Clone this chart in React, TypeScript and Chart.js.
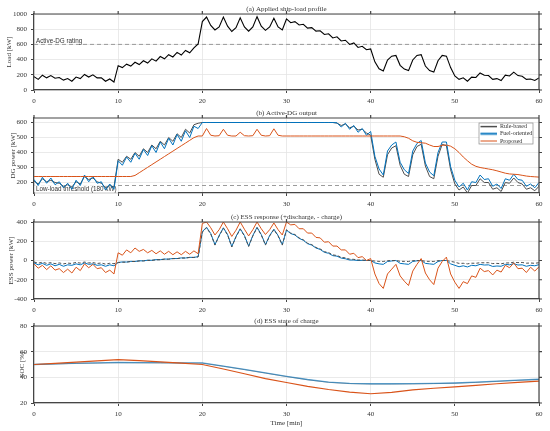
import React, { useEffect, useRef } from "react";
import { Chart, registerables } from "chart.js";

Chart.register(...registerables);

// time grid of the logged signals [min]
const minutes = [
  0, 0.5, 1, 1.5, 2, 2.5, 3, 3.5, 4, 4.5,
  5, 5.5, 6, 6.5, 7, 7.5, 8, 8.5, 9, 9.5,
  10, 10.5, 11, 11.5, 12, 12.5, 13, 13.5, 14, 14.5,
  15, 15.5, 16, 16.5, 17, 17.5, 18, 18.5, 19, 19.5,
  20, 20.5, 21, 21.5, 22, 22.5, 23, 23.5, 24, 24.5,
  25, 25.5, 26, 26.5, 27, 27.5, 28, 28.5, 29, 29.5,
  30, 30.5, 31, 31.5, 32, 32.5, 33, 33.5, 34, 34.5,
  35, 35.5, 36, 36.5, 37, 37.5, 38, 38.5, 39, 39.5,
  40, 40.5, 41, 41.5, 42, 42.5, 43, 43.5, 44, 44.5,
  45, 45.5, 46, 46.5, 47, 47.5, 48, 48.5, 49, 49.5,
  50, 50.5, 51, 51.5, 52, 52.5, 53, 53.5, 54, 54.5,
  55, 55.5, 56, 56.5, 57, 57.5, 58, 58.5, 59, 59.5, 60,
];

// (a) ship load [kW]
const loadKw = [
  175, 140, 195, 160, 190, 155, 165, 130, 150, 115,
  170, 150, 205, 170, 200, 160, 160, 115, 145, 105,
  320, 295, 340, 315, 365, 335, 385, 355, 410, 380,
  440, 410, 465, 435, 495, 460, 520, 490, 555, 605,
  900, 960, 850, 790, 830, 960, 840, 770, 820, 950,
  830, 775, 830, 965, 840, 785, 830, 945, 830, 790,
  935, 885, 900, 855, 865, 815, 820, 775, 780, 730,
  740, 685, 700, 645, 655, 600, 620, 560, 575, 530,
  540, 370, 280, 250, 395, 445, 455, 325, 275, 255,
  395, 455, 465, 315, 255, 235, 385, 455, 445, 295,
  185, 140, 160, 115, 170, 165, 225, 195, 190, 140,
  150, 125, 195, 185, 235, 190, 180, 140, 145, 125, 160,
];

// (b) DG output [kW]
const dgRule = [
  210, 190, 225, 205, 215, 200, 195, 175, 185, 170,
  205, 190, 240, 220, 230, 205, 195, 165, 180, 170,
  355, 335, 375, 355, 400, 375, 425, 400, 450, 425,
  475, 450, 500, 475, 525, 500, 555, 530, 585, 595,
  600, 600, 600, 600, 600, 600, 600, 600, 600, 600,
  600, 600, 600, 600, 600, 600, 600, 600, 600, 600,
  600, 600, 600, 600, 600, 600, 600, 600, 600, 600,
  600, 600, 596, 580, 590, 565, 575, 550, 555, 530,
  515, 355, 255, 235, 385, 430, 445, 315, 255, 240,
  385, 440, 455, 310, 240, 225, 375, 455, 445, 285,
  190, 150, 170, 130, 180, 180, 225, 200, 200, 155,
  165, 140, 200, 195, 230, 200, 190, 155, 165, 145, 175,
];
const dgFuel = [
  220, 180, 235, 195, 230, 185, 205, 165, 195, 155,
  215, 180, 250, 205, 240, 195, 205, 150, 190, 155,
  345, 315, 370, 335, 395, 355, 420, 380, 445, 400,
  470, 425, 495, 450, 520, 475, 545, 500, 575, 560,
  600, 600, 600, 600, 600, 600, 600, 600, 600, 600,
  600, 600, 600, 600, 600, 600, 600, 600, 600, 600,
  600, 600, 600, 600, 600, 600, 600, 600, 600, 600,
  600, 600, 598, 570, 595, 555, 580, 535, 560, 515,
  540, 375, 290, 250, 410, 450, 470, 335, 285, 260,
  410, 460, 480, 330, 270, 245, 400, 470, 470, 305,
  215, 170, 195, 150, 205, 200, 250, 220, 225, 175,
  190, 160, 225, 215, 255, 220, 215, 175, 190, 165, 200,
];
const dgProposed = [
  240, 240, 240, 240, 240, 240, 240, 240, 240, 240,
  240, 240, 240, 240, 240, 240, 240, 240, 240, 240,
  240, 240, 240, 240, 247, 265, 283, 301, 319, 337,
  355, 373, 391, 409, 427, 445, 463, 481, 499, 510,
  510, 560, 515, 510, 512, 555, 515, 510, 510, 535,
  512, 510, 512, 555, 515, 510, 512, 558, 515, 510,
  510, 510, 510, 510, 510, 510, 510, 510, 510, 510,
  510, 510, 510, 510, 510, 510, 510, 510, 510, 510,
  510, 510, 510, 510, 510, 510, 510, 510, 505, 495,
  478, 468, 465, 462, 450, 440, 440, 448, 450, 442,
  425, 400, 370, 345, 322, 308, 300, 295, 290, 285,
  278, 270, 262, 257, 255, 253, 248, 243, 240, 238, 236,
];

// (c) ESS power [kW], + discharge / - charge
const essRule = [
  -15, -28, -18, -30, -22, -33, -25, -35, -27, -31,
  -20, -27, -16, -25, -22, -31, -26, -38, -29, -33,
  -22, -18, -17, -11, -10, -5, -4, 1, 2, 7,
  8, 13, 14, 19, 20, 25, 26, 31, 32, 37,
  295, 340, 275, 160, 255, 335, 265, 140, 245, 325,
  255, 145, 255, 340, 265, 160, 255, 320, 255, 160,
  320, 285, 270, 235, 215, 180, 165, 135, 120, 92,
  82, 58, 52, 33, 27, 14, 12, 5, 4, 1,
  0, -6, -9, -10, -2, -1, 0, -8, -9, -10,
  -2, -1, 0, -8, -9, -10, -2, 0, 0, -9,
  -18, -30, -29, -35, -28, -29, -23, -24, -23, -32,
  -30, -34, -26, -25, -18, -22, -20, -28, -26, -29, -23,
];
const essFuel = [
  -25, -45, -30, -50, -35, -55, -40, -60, -45, -50,
  -35, -45, -25, -40, -35, -50, -45, -60, -45, -55,
  -20, -15, -16, -9, -10, -3, -4, 3, 2, 9,
  9, 15, 14, 21, 20, 27, 26, 33, 32, 40,
  300, 345, 280, 165, 260, 340, 270, 145, 250, 330,
  260, 150, 260, 345, 270, 165, 260, 325, 260, 165,
  315, 280, 265, 230, 210, 175, 160, 130, 115, 85,
  75, 50, 45, 25, 18, 5, 5, 0, 2, 0,
  0, -25, -35, -40, -10, -5, 0, -30, -35, -40,
  -10, -3, 0, -30, -35, -40, -10, 0, 0, -35,
  -50, -65, -55, -67, -50, -55, -40, -47, -45, -62,
  -57, -60, -40, -45, -33, -47, -45, -60, -50, -55, -43,
];
const essProposed = [
  -35, -80, -50, -95, -55, -100, -85, -125, -90, -130,
  -70, -105, -35, -75, -40, -85, -75, -125, -100, -140,
  80, 55, 110, 80, 130, 95, 115, 80, 105, 70,
  100, 65, 95, 60, 90, 60, 95, 65, 100, 70,
  385, 400, 340, 265, 320, 400, 330, 250, 315, 400,
  325, 255, 320, 400, 330, 270, 320, 390, 320, 265,
  400, 370, 375, 330, 330, 285, 285, 240, 235, 190,
  195, 150, 150, 110, 110, 65, 75, 30, 40, 0,
  20, -140, -240, -290, -140, -90, -40, -160, -215, -260,
  -110, -40, 20, -130, -200, -250, -80, -10, 35, -140,
  -225, -290, -220, -240, -160, -175, -80, -115, -105, -150,
  -100, -120, -50, -75, -25, -85, -80, -125, -70, -110, -65,
];

// (d) state of charge [%]
const socMinutes = [0, 2.5, 5, 7.5, 10, 12.5, 15, 17.5, 20, 22.5, 25, 27.5, 30, 32.5, 35, 37.5, 40, 42.5, 45, 47.5, 50, 52.5, 55, 57.5, 60];
const socRule = [50, 50.4, 50.8, 51.1, 51.4, 51.3, 51.2, 51.1, 51, 48.6, 46, 43.3, 40.6, 38.1, 36.1, 35.1, 34.8, 34.8, 34.9, 35.1, 35.4, 36, 36.8, 37.6, 38.3];
const socFuel = [50, 50.5, 51, 51.3, 51.6, 51.5, 51.4, 51.3, 51.2, 48.8, 46.2, 43.5, 40.8, 38.3, 36.3, 35.3, 35, 35, 35.1, 35.3, 35.6, 36.2, 37, 37.8, 38.5];
const socProposed = [50, 50.9, 51.8, 52.8, 53.8, 53, 52, 51, 50, 46.5, 42.8, 39, 36, 33, 30.5, 28.5, 27.2, 28.3, 30.3, 31.5, 32.5, 33.8, 35, 36, 37];

const timeTicks = [0, 10, 20, 30, 40, 50, 60];
const loadTicks = [0, 200, 400, 600, 800, 1000];
const dgTicks = [200, 300, 400, 500, 600];
const essTicks = [-400, -200, 0, 200, 400];
const socTicks = [20, 40, 60, 80];

const dgRating = 600;
const lowLoadThreshold = 180;

const serif = "'Liberation Serif', 'Times New Roman', serif";
const sans = "'Liberation Sans', Arial, sans-serif";
const frameColor = "#454545";
const gridColor = "#e4e4e4";
const textColor = "#333";
const ruleColor = "#4d4d4d";
const fuelColor = "#0072BD";
const propColor = "#D95319";

const framePlugin = {
  id: "frame",
  afterDraw(chart: any) {
    const { ctx, chartArea: a, scales } = chart;
    ctx.save();
    ctx.strokeStyle = frameColor;
    ctx.lineWidth = 1.2;
    ctx.beginPath();
    ctx.moveTo(a.left, a.top);
    ctx.lineTo(a.right, a.top);
    ctx.lineTo(a.right, a.bottom);
    scales.x.ticks.forEach((t: any) => {
      const px = scales.x.getPixelForValue(t.value);
      ctx.moveTo(px, a.top);
      ctx.lineTo(px, a.top - 3);
    });
    scales.y.ticks.forEach((t: any) => {
      const py = scales.y.getPixelForValue(t.value);
      ctx.moveTo(a.right, py);
      ctx.lineTo(a.right + 3, py);
    });
    ctx.stroke();
    ctx.restore();
  },
};

const titlePlugin = {
  id: "panelTitle",
  defaults: { text: "" },
  afterDraw(chart: any, _args: any, opts: any) {
    if (!opts.text) return;
    const { ctx, chartArea: a } = chart;
    ctx.save();
    ctx.font = `7px ${serif}`;
    ctx.fillStyle = textColor;
    ctx.textAlign = "center";
    ctx.textBaseline = "middle";
    ctx.fillText(opts.text, (a.left + a.right) / 2, a.top - 5);
    ctx.restore();
  },
};

Chart.register(framePlugin, titlePlugin);

const series = (label: string, xs: number[], ys: number[], color: string, width: number, extra: any = {}) => ({
  label,
  data: xs.map((x, i) => ({ x, y: ys[i] })),
  borderColor: color,
  backgroundColor: color,
  borderWidth: width,
  pointRadius: 0,
  tension: 0,
  fill: false,
  ...extra,
});

// dashed reference level, drawn under the data
const refLine = (chart: any, value: number) => {
  const { ctx, chartArea: a } = chart;
  const y = chart.scales.y.getPixelForValue(value);
  ctx.save();
  ctx.strokeStyle = "#9b9b9b";
  ctx.lineWidth = 1;
  ctx.setLineDash([4, 3]);
  ctx.beginPath();
  ctx.moveTo(a.left, y);
  ctx.lineTo(a.right, y);
  ctx.stroke();
  ctx.restore();
  return y;
};

function options(p: {
  title: string;
  yMin: number;
  yMax: number;
  yTicks: number[];
  yTitle: string;
  yTitlePad: number;
  xHeight: number;
  xTitle?: string;
}) {
  return {
    responsive: false,
    maintainAspectRatio: false,
    animation: false,
    events: [],
    layout: { padding: { top: 14, right: 11, left: 0, bottom: 0 } },
    plugins: {
      legend: { display: false },
      tooltip: { enabled: false },
      panelTitle: { text: p.title },
    },
    scales: {
      x: {
        type: "linear",
        min: 0,
        max: 60,
        afterBuildTicks: (s: any) => {
          s.ticks = timeTicks.map((value) => ({ value }));
        },
        afterFit: (s: any) => {
          s.height = p.xHeight;
        },
        grid: { color: gridColor, lineWidth: 0.8, tickLength: 3, tickColor: frameColor, tickWidth: 1 },
        border: { color: frameColor, width: 1.2 },
        ticks: {
          font: { family: serif, size: 7 },
          color: textColor,
          padding: 4,
          maxRotation: 0,
          autoSkip: false,
          callback: (v: any) => String(v),
        },
        title: {
          display: !!p.xTitle,
          text: p.xTitle || "",
          font: { family: serif, size: 7 },
          color: textColor,
          padding: 0,
        },
      },
      y: {
        min: p.yMin,
        max: p.yMax,
        afterBuildTicks: (s: any) => {
          s.ticks = p.yTicks.map((value) => ({ value }));
        },
        afterFit: (s: any) => {
          s.width = 34;
        },
        grid: { color: gridColor, lineWidth: 0.8, tickLength: 3, tickColor: frameColor, tickWidth: 1 },
        border: { color: frameColor, width: 1.2 },
        ticks: {
          font: { family: serif, size: 7 },
          color: textColor,
          padding: 4,
          callback: (v: any) => String(v),
        },
        title: {
          display: true,
          text: p.yTitle,
          font: { family: serif, size: 7 },
          color: textColor,
          padding: { top: p.yTitlePad, bottom: 0 },
        },
      },
    },
  };
}

const loadConfig = () => ({
  type: "line",
  data: { datasets: [series("Load", minutes, loadKw, "#000", 1.1)] },
  options: options({
    title: "(a) Applied ship-load profile",
    yMin: 0,
    yMax: 1000,
    yTicks: loadTicks,
    yTitle: "Load [kW]",
    yTitlePad: 4.5,
    xHeight: 20,
  }),
  plugins: [
    {
      id: "ratingLine",
      beforeDatasetsDraw(chart: any) {
        const y = refLine(chart, dgRating);
        const { ctx, chartArea: a } = chart;
        ctx.save();
        ctx.font = `6.3px ${sans}`;
        ctx.fillStyle = "#333";
        ctx.textBaseline = "middle";
        ctx.fillText("Active-DG rating", a.left + 2, y - 3.4);
        ctx.restore();
      },
    },
  ],
});

const dgConfig = () => ({
  type: "line",
  data: {
    datasets: [
      series("Proposed", minutes, dgProposed, propColor, 1),
      series("Fuel-oriented", minutes, dgFuel, fuelColor, 1),
      series("Rule-based", minutes, dgRule, ruleColor, 1),
    ],
  },
  options: options({
    title: "(b) Active-DG output",
    yMin: 130,
    yMax: 630,
    yTicks: dgTicks,
    yTitle: "DG power [kW]",
    yTitlePad: 9,
    xHeight: 20,
  }),
  plugins: [
    {
      id: "lowLoad",
      beforeDatasetsDraw(chart: any) {
        const y = refLine(chart, lowLoadThreshold);
        const { ctx, chartArea: a } = chart;
        const text = "Low-load threshold (180 kW)";
        ctx.save();
        ctx.font = `6.3px ${sans}`;
        const w = ctx.measureText(text).width;
        ctx.fillStyle = "rgba(255,255,255,0.85)";
        ctx.fillRect(a.left + 0.5, y - 0.5, w + 3, 8.5);
        ctx.fillStyle = "#333";
        ctx.textBaseline = "middle";
        ctx.fillText(text, a.left + 2, y + 3.6);
        ctx.restore();
      },
    },
    {
      id: "dgLegend",
      afterDatasetsDraw(chart: any) {
        const { ctx, chartArea: a } = chart;
        const w = 54;
        const h = 21;
        const left = a.right - 6 - w;
        const top = a.top + 5;
        ctx.save();
        ctx.fillStyle = "#fff";
        ctx.fillRect(left, top, w, h);
        ctx.strokeStyle = "#8a8a8a";
        ctx.lineWidth = 0.7;
        ctx.strokeRect(left, top, w, h);
        const rows = [
          { label: "Rule-based", color: ruleColor, width: 1.5, halo: "" },
          { label: "Fuel-oriented", color: fuelColor, width: 1, halo: "rgba(0,114,189,0.45)" },
          { label: "Proposed", color: propColor, width: 1, halo: "" },
        ];
        ctx.font = `6px ${serif}`;
        ctx.textBaseline = "middle";
        rows.forEach((r, i) => {
          const y = top + 3.6 + i * 7.2;
          if (r.halo) {
            ctx.strokeStyle = r.halo;
            ctx.lineWidth = 3;
            ctx.beginPath();
            ctx.moveTo(left + 1.5, y);
            ctx.lineTo(left + 18, y);
            ctx.stroke();
          }
          ctx.strokeStyle = r.color;
          ctx.lineWidth = r.width;
          ctx.beginPath();
          ctx.moveTo(left + 1.5, y);
          ctx.lineTo(left + 18, y);
          ctx.stroke();
          ctx.fillStyle = "#333";
          ctx.fillText(r.label, left + 21, y);
        });
        ctx.restore();
      },
    },
  ],
});

const essConfig = () => ({
  type: "line",
  data: {
    datasets: [
      series("Proposed", minutes, essProposed, propColor, 1),
      series("Rule-based", minutes, essRule, ruleColor, 1, { borderDash: [3, 2] }),
      series("Fuel-oriented", minutes, essFuel, fuelColor, 1),
    ],
  },
  options: options({
    title: "(c) ESS response (+discharge, - charge)",
    yMin: -400,
    yMax: 400,
    yTicks: essTicks,
    yTitle: "ESS power [kW]",
    yTitlePad: 7,
    xHeight: 20,
  }),
});

const socConfig = () => ({
  type: "line",
  data: {
    datasets: [
      series("Proposed", socMinutes, socProposed, propColor, 1.2),
      series("Fuel-oriented", socMinutes, socFuel, "rgba(0,114,189,0.6)", 1.3),
      series("Rule-based", socMinutes, socRule, "#8a8a8a", 0.8),
    ],
  },
  options: options({
    title: "(d) ESS state of charge",
    yMin: 20,
    yMax: 80,
    yTicks: socTicks,
    yTitle: "SOC [%]",
    yTitlePad: 18,
    xHeight: 24,
    xTitle: "Time [min]",
  }),
});

const Panel: React.FC<{ top: number; height: number; build: () => any }> = ({ top, height, build }) => {
  const canvasRef = useRef<HTMLCanvasElement | null>(null);

  useEffect(() => {
    if (!canvasRef.current) return;
    const chart = new Chart(canvasRef.current, build());
    return () => {
      chart.destroy();
    };
  }, []);

  return (
    <canvas
      ref={canvasRef}
      width={550}
      height={height}
      style={{ position: "absolute", left: 0, top, width: 550, height }}
    />
  );
};

const App: React.FC = () => {
  return (
    <div
      style={{
        position: "absolute",
        left: 0,
        top: 0,
        width: 550,
        height: 431,
        overflow: "hidden",
        background: "#fff",
      }}
    >
      <Panel top={0} height={110} build={loadConfig} />
      <Panel top={104} height={109} build={dgConfig} />
      <Panel top={208} height={111} build={essConfig} />
      <Panel top={312} height={115} build={socConfig} />
    </div>
  );
};

export default App;
